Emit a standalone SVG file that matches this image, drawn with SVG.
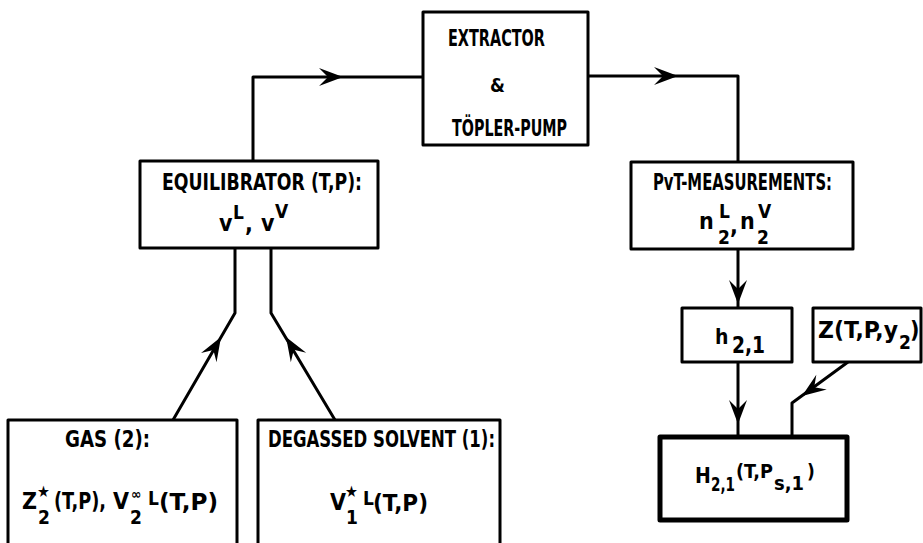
<svg xmlns="http://www.w3.org/2000/svg" xmlns:xlink="http://www.w3.org/1999/xlink" width="923" height="543" viewBox="0 0 923 543">
<style>
.box{fill:#fff;stroke:#000;stroke-width:3;stroke-linejoin:round}
.thick{stroke-width:5}
.ln{fill:none;stroke:#000;stroke-width:3;stroke-linejoin:round}
text{font-family:"DejaVu Sans Condensed","DejaVu Sans","Liberation Sans",sans-serif;font-weight:bold;font-size:23px;fill:#000}
.s{font-size:19px}
.m{font-size:21px}
.xs{font-size:16px}
.inf{font-size:14px}
</style>
<defs>
<path id="ah" d="M0,0 L-24,-9 L-15,0 L-24,9 Z" fill="#000"/>
</defs>
<g id="connectors">
<path class="ln" d="M253,161 V77 H423"/>
<path class="ln" d="M588,76 H738 V162"/>
<path class="ln" d="M738,249 V308"/>
<path class="ln" d="M738,362 V437"/>
<path class="ln" d="M235,248 V313 L173,420"/>
<path class="ln" d="M271,248 V313 L335,420"/>
<path class="ln" d="M848,362 L792,403 V437"/>
<use xlink:href="#ah" transform="translate(343,77)"/>
<use xlink:href="#ah" transform="translate(678,76)"/>
<use xlink:href="#ah" transform="translate(738,304) rotate(90)"/>
<use xlink:href="#ah" transform="translate(738,424) rotate(90)"/>
<use xlink:href="#ah" transform="translate(221,337) rotate(-59.4)"/>
<use xlink:href="#ah" transform="translate(286,337) rotate(-121.4)"/>
<use xlink:href="#ah" transform="translate(802,396) rotate(144.5)"/>
</g>
<g id="extractor">
<rect class="box" x="423" y="12" width="165" height="133"/>
<text x="448" y="46" textLength="97" lengthAdjust="spacingAndGlyphs">EXTRACTOR</text>
<text x="490" y="92" class="s">&amp;</text>
<text x="452" y="136" textLength="115" lengthAdjust="spacingAndGlyphs">TÖPLER-PUMP</text>
</g>
<g id="equilibrator">
<rect class="box" x="140" y="161" width="238" height="87"/>
<text x="162" y="190" textLength="200" lengthAdjust="spacingAndGlyphs">EQUILIBRATOR (T,P):</text>
<text x="219" y="231">v</text>
<text x="233" y="219" class="s">L</text>
<text x="245" y="232">,</text>
<text x="261" y="231">v</text>
<text x="275" y="218" class="s">V</text>
</g>
<g id="pvt">
<rect class="box" x="631" y="162" width="222" height="87"/>
<text x="653" y="190" textLength="179" lengthAdjust="spacingAndGlyphs">PvT-MEASUREMENTS:</text>
<text x="699" y="229">n</text>
<text x="719" y="218" class="s">L</text>
<text x="718" y="244" class="s">2</text>
<text x="730" y="234">,</text>
<text x="740" y="229">n</text>
<text x="758" y="218" class="s">V</text>
<text x="757" y="244" class="s">2</text>
</g>
<g id="h21">
<rect class="box" x="682" y="308" width="110" height="54"/>
<text x="715" y="344" class="m">h</text>
<text x="732" y="353" textLength="33" lengthAdjust="spacingAndGlyphs">2,1</text>
</g>
<g id="z">
<rect class="box" x="813" y="308" width="108" height="54"/>
<text x="818" y="338" textLength="80" lengthAdjust="spacingAndGlyphs">Z(T,P,y</text>
<text x="899" y="349" class="s">2</text>
<text x="910" y="338">)</text>
</g>
<g id="H21">
<rect class="box thick" x="660" y="437" width="187" height="83"/>
<text x="695" y="483" class="m">H</text>
<text x="711" y="491" class="s" textLength="24" lengthAdjust="spacingAndGlyphs">2,1</text>
<text x="736" y="478" class="s" textLength="37" lengthAdjust="spacingAndGlyphs">(T,P</text>
<text x="774" y="490" class="s" textLength="30" lengthAdjust="spacingAndGlyphs">s,1</text>
<text x="807" y="478" class="s">)</text>
</g>
<g id="gas">
<rect class="box" x="8" y="420" width="229" height="140"/>
<text x="65" y="447" textLength="85" lengthAdjust="spacingAndGlyphs">GAS (2):</text>
<text x="22" y="509">Z</text>
<text x="37" y="497" class="xs">★</text>
<text x="38" y="524" class="s">2</text>
<text x="54" y="509" textLength="52" lengthAdjust="spacingAndGlyphs">(T,P),</text>
<text x="113" y="509">V</text>
<text x="131" y="499" class="inf">∞</text>
<text x="130" y="524" class="s">2</text>
<text x="148" y="505" class="s">L</text>
<text x="159" y="510" textLength="59" lengthAdjust="spacingAndGlyphs">(T,P)</text>
</g>
<g id="solvent">
<rect class="box" x="258" y="420" width="242" height="140"/>
<text x="268" y="447" textLength="227" lengthAdjust="spacingAndGlyphs">DEGASSED SOLVENT (1):</text>
<text x="330" y="510">V</text>
<text x="345" y="497" class="xs">★</text>
<text x="346" y="524" class="s">1</text>
<text x="363" y="505" class="s">L</text>
<text x="373" y="511" textLength="55" lengthAdjust="spacingAndGlyphs">(T,P)</text>
</g>
</svg>
